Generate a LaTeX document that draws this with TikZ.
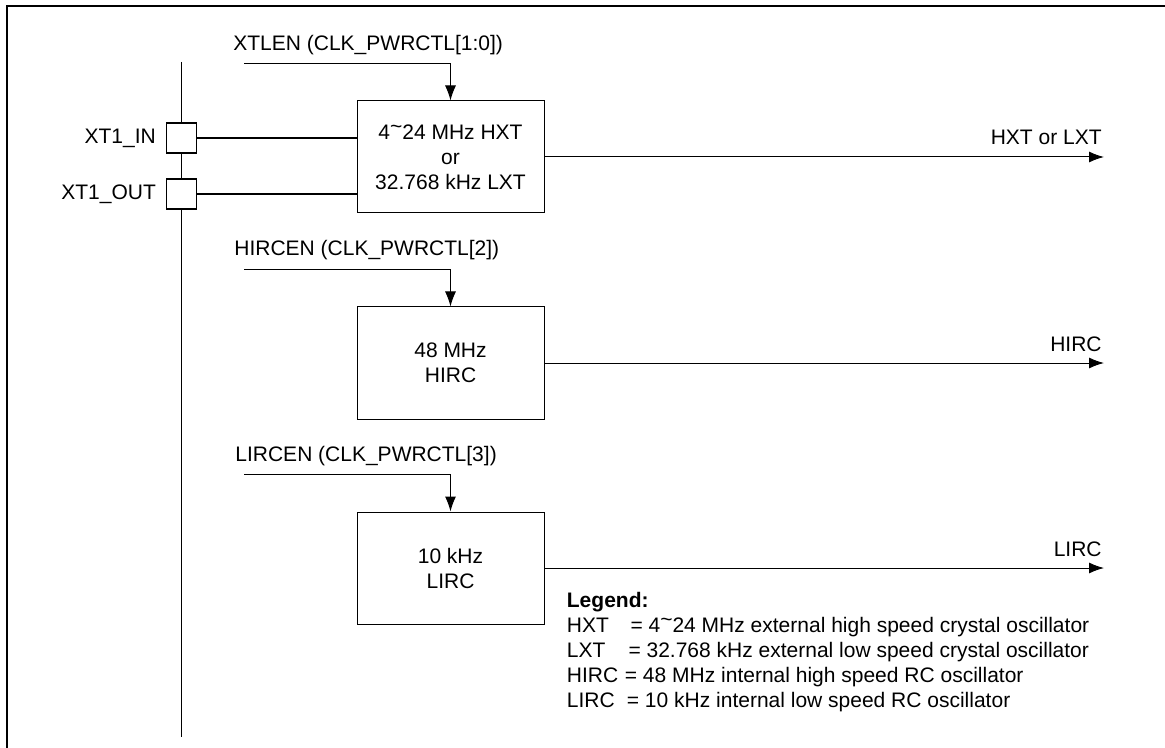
\documentclass[tikz,border=0pt]{standalone}
\usepackage{fontspec}
\setmainfont{Liberation Sans}
\usetikzlibrary{arrows.meta,positioning}

\tikzset{
  osc/.style={draw, line width=0.5pt, minimum width=93.5pt, minimum height=56pt,
    align=center, fill=white},
  pad/.style={draw, line width=0.6pt, minimum size=15pt, inner sep=0pt, fill=white},
  pin/.style={line width=0.8pt},
  en/.style={line width=0.5pt, -{Latex[length=7.5pt,width=5.5pt]}},
  txt/.style={inner sep=0pt}
}
\newcommand{\tld}{\raisebox{3pt}{\textasciitilde}}

\begin{document}
\begin{tikzpicture}[x=0.5pt, y=-0.5pt, font=\fontsize{10.5}{12.5}\selectfont]
  \useasboundingbox (0,0) rectangle (1165,748);
  \draw[line width=1pt] (7,748) |- (1165,6);

  \coordinate (bus_top) at (181.5,62);
  \coordinate (bus_bot) at (181.5,737);
  \draw[pin] (bus_top) -- (bus_bot);
  \node[pad] (pin_in) at (181.5,138) {};
  \node[pad] (pin_out) at (181.5,194) {};
  \node[left=1.5pt of pin_in] (lbl_in) {XT1\_IN};
  \node[left=1.5pt of pin_out] (lbl_out) {XT1\_OUT};

  \node[osc] (hxt) at (450.5,157) {4\tld24 MHz HXT\\or\\32.768 kHz LXT};
  \node[osc] (hirc) at (450.5,363) {48 MHz\\HIRC};
  \node[osc] (lirc) at (450.5,568) {10 kHz\\LIRC};

  \draw[pin] (pin_in) -- (pin_in -| hxt.west);
  \draw[pin] (pin_out) -- (pin_out -| hxt.west);

  \node[txt, anchor=west] (xtlen) at (233,45) {XTLEN (CLK\_PWRCTL[1:0])};
  \coordinate (xtlen_s) at (244,63.5);
  \draw[en] (xtlen_s) -| (hxt.north);
  \node[txt, anchor=west] (hircen) at (234,250) {HIRCEN (CLK\_PWRCTL[2])};
  \coordinate (hircen_s) at (244,269.5);
  \draw[en] (hircen_s) -| (hirc.north);
  \node[txt, anchor=west] (lircen) at (235,456) {LIRCEN (CLK\_PWRCTL[3])};
  \coordinate (lircen_s) at (244,474.5);
  \draw[en] (lircen_s) -| (lirc.north);

  \coordinate (hxt_o) at (1104,157);
  \coordinate (hirc_o) at (1104,363);
  \coordinate (lirc_o) at (1104,568);
  \draw[en] (hxt.east) -- (hxt_o);
  \draw[en] (hirc.east) -- (hirc_o);
  \draw[en] (lirc.east) -- (lirc_o);
  \node[txt, anchor=base east] (hxt_lbl) at ([xshift=-1pt, yshift=6pt]hxt_o) {HXT or LXT};
  \node[txt, anchor=base east] (hirc_lbl) at ([xshift=-1pt, yshift=6pt]hirc_o) {HIRC};
  \node[txt, anchor=base east] (lirc_lbl) at ([xshift=-1pt, yshift=6pt]lirc_o) {LIRC};

  \node[txt, anchor=north west, align=left] (legend) at (566.5,591.5) {\textbf{Legend:}\\
    \makebox[31.8pt][l]{HXT}= 4\tld24 MHz external high speed crystal oscillator\\
    \makebox[30.8pt][l]{LXT}= 32.768 kHz external low speed crystal oscillator\\
    \makebox[29pt][l]{HIRC}= 48 MHz internal high speed RC oscillator\\
    \makebox[30pt][l]{LIRC}= 10 kHz internal low speed RC oscillator};
\end{tikzpicture}
\end{document}
